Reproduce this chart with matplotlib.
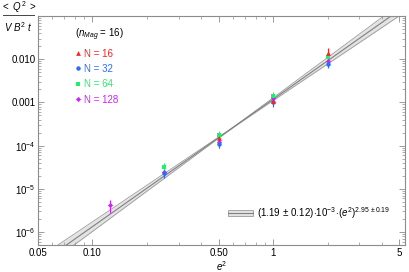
import numpy as np
import matplotlib
matplotlib.use("Agg")
import matplotlib.pyplot as plt
from matplotlib.lines import Line2D
from matplotlib.patches import Patch
from matplotlib.ticker import FixedLocator, FixedFormatter, LogLocator, NullFormatter

plt.rcParams['font.family'] = ['Liberation Sans', 'DejaVu Sans']
plt.rcParams['mathtext.fontset'] = 'custom'
plt.rcParams['mathtext.rm'] = 'Liberation Sans'
plt.rcParams['mathtext.it'] = 'Liberation Sans:italic'

# data: e^2, <Q^2>/(V B^2 t), errors
x16 = [0.5, 1.0, 2.0]
y16 = [1.5e-4, 1.1e-3, 1.38e-2]
e16 = [0.3e-4, 0.25e-3, 0.45e-2]

x32 = [0.25, 0.5, 1.0, 2.0]
y32 = [2.3e-5, 1.1e-4, 1.0e-3, 7.9e-3]
e32 = [0.5e-5, 0.2e-4, 0.2e-3, 1.6e-3]

x64 = [0.25, 0.5, 1.0, 2.0]
y64 = [3.2e-5, 1.8e-4, 1.4e-3, 1.1e-2]
e64 = [0.8e-5, 0.4e-4, 0.3e-3, 0.25e-2]

x128 = [0.125, 0.25, 0.5, 1.0, 2.0]
y128 = [4.2e-6, 2.5e-5, 1.2e-4, 1.25e-3, 9.0e-3]
e128 = [1.4e-6, 0.6e-5, 0.3e-4, 0.35e-3, 2.2e-3]

# fit: A * (e^2)^b
fit_A = 1.19e-3
fit_dA = 0.12e-3
fit_b = 2.95
fit_db = 0.19
fit_pivot = 0.6

xticks = [0.05, 0.10, 0.50, 1, 5]
xticklabels = ['0.05', '0.10', '0.50', '1', '5']
yticks = [1e-6, 1e-5, 1e-4, 1e-3, 1e-2, 1e-1]
yticklabels = [r'$10^{-6}$', r'$10^{-5}$', r'$10^{-4}$', '0.001', '0.010', '']

c16, c32, c64, c128 = '#ff1f1f', '#2a6cff', '#1ff06a', '#d21eff'

fig = plt.figure(figsize=(4.09, 2.72), dpi=100)
ax = fig.add_axes([0.093, 0.099, 0.897, 0.842])
ax.set_xscale('log')
ax.set_yscale('log')
ax.set_xlim(0.05, 5.36)
ax.set_ylim(5e-7, 0.1)

# fit band
xf = np.logspace(np.log10(0.05), np.log10(5.36), 200)
lx = np.log10(xf / fit_pivot)
yc = fit_A * fit_pivot ** fit_b * (xf / fit_pivot) ** fit_b
sig = 0.75 * np.sqrt((0.2 * fit_dA / fit_A / np.log(10)) ** 2 + (fit_db * lx) ** 2)
ylo = yc * 10 ** (-sig)
yhi = yc * 10 ** sig
ax.fill_between(xf, ylo, yhi, color='#e3e3e3', lw=0, zorder=1)
ax.plot(xf, ylo, color='#9a9a9a', lw=0.6, zorder=2)
ax.plot(xf, yhi, color='#9a9a9a', lw=0.6, zorder=2)
ax.plot(xf, yc, color='#808080', lw=0.8, zorder=2)

series = [
    (x128, y128, e128, c128, 'D', 2.6, 'N = 128'),
    (x32, y32, e32, c32, 'o', 3.2, 'N = 32'),
    (x64, y64, e64, c64, 's', 3.0, 'N = 64'),
    (x16, y16, e16, c16, '^', 3.4, 'N = 16'),
]
handles = {}
for xs, ys, es, col, mk, ms, lab in series:
    ax.errorbar(xs, ys, yerr=es, fmt=mk, color=col, ms=ms, mew=0,
                elinewidth=0.8, capsize=1.0, capthick=0.8, zorder=3)
    handles[lab] = Line2D([], [], ls='', marker=mk, color=col, ms=ms, mew=0)

order = ['N = 16', 'N = 32', 'N = 64', 'N = 128']
cols = [c16, c32, c64, c128]
leg1 = ax.legend([handles[k] for k in order], order, loc='upper left',
                 bbox_to_anchor=(0.09, 0.97), frameon=False, fontsize=7,
                 handlelength=0.6, handletextpad=0.3, labelspacing=0.55,
                 title=r'($n_{Mag}$ = 16)', title_fontsize=7,
                 borderaxespad=0)
leg1._legend_box.align = 'left'
for t, c in zip(leg1.get_texts(), cols):
    t.set_color(c)
ax.add_artist(leg1)

band_h = (Patch(facecolor='#e3e3e3', edgecolor='#9a9a9a', lw=0.6),
          Line2D([], [], color='#808080', lw=0.8))
ax.legend([band_h],
          [r'$(1.19\,\pm\,0.12)\!\cdot\!10^{-3}\!\cdot\!(e^2)^{2.95\,\pm 0.19}$'],
          loc='lower right', bbox_to_anchor=(0.97, 0.09), frameon=False,
          fontsize=7, handlelength=2.6, handleheight=0.5, handletextpad=0.4,
          borderaxespad=0)

ax.xaxis.set_major_locator(FixedLocator(xticks))
ax.xaxis.set_major_formatter(FixedFormatter(xticklabels))
ax.xaxis.set_minor_locator(LogLocator(base=10, subs=np.arange(2, 10)))
ax.xaxis.set_minor_formatter(NullFormatter())
ax.yaxis.set_major_locator(FixedLocator(yticks))
ax.yaxis.set_major_formatter(FixedFormatter(yticklabels))
ax.yaxis.set_minor_locator(LogLocator(base=10, subs=np.arange(2, 10)))
ax.yaxis.set_minor_formatter(NullFormatter())

ax.tick_params(which='both', direction='in', top=True, right=True,
               color='#8c8c8c', labelsize=7, pad=2)
ax.tick_params(which='major', length=4, width=0.6)
ax.tick_params(which='minor', length=2, width=0.5)
for sp in ax.spines.values():
    sp.set_color('#8c8c8c')
    sp.set_linewidth(0.8)

ax.set_xlabel(r'$e^2$', fontsize=7, labelpad=1)

# y label as a fraction at top-left
fig.text(0.045, 0.975, r'$<\ Q^2\ >$', ha='center', va='center', fontsize=7)
fig.text(0.045, 0.900, r'$V\ B^2\ t$', ha='center', va='center', fontsize=7)
fig.add_artist(Line2D([0.008, 0.083], [0.944, 0.944], color='#444444', lw=0.7,
                      transform=fig.transFigure))

fig.savefig('out.png', dpi=100)
